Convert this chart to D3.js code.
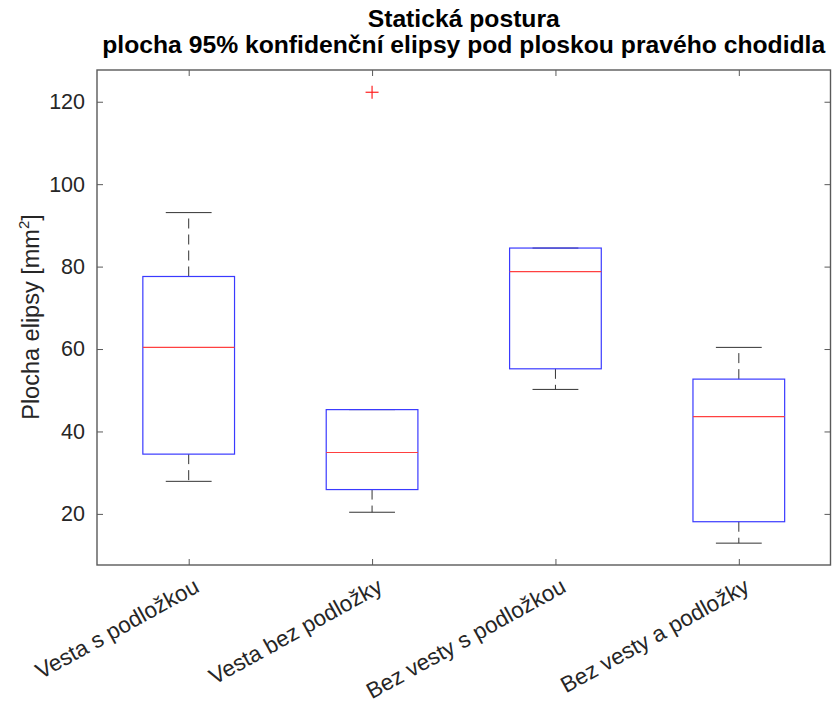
<!DOCTYPE html>
<html>
<head>
<meta charset="utf-8">
<script src="https://cdn.jsdelivr.net/npm/d3@7"></script>
<style>
  html, body { margin: 0; padding: 0; background: #fff; }
  svg { display: block; }
  text { font-family: "Liberation Sans", Arial, Helvetica, sans-serif; }
</style>
</head>
<body>
<svg id="chart" width="832" height="711"></svg>
<script>
const categories = ["Vesta s podložkou", "Vesta bez podložky", "Bez vesty s podložkou", "Bez vesty a podložky"];
const q1 = [34.5, 25.9, 55.2, 18.1];
const median = [60.4, 34.9, 78.8, 43.6];
const q3 = [77.6, 45.3, 84.5, 52.7];
const whiskerLow = [27.9, 20.4, 50.2, 12.9];
const whiskerHigh = [93.1, 45.3, 84.5, 60.4];
const outliers = [[], [122.3], [], []];
const yTicks = [20, 40, 60, 80, 100, 120];
const titleLines = ["Statická postura", "plocha 95% konfidenční elipsy pod ploskou pravého chodidla"];

const svg = d3.select("#chart");
const L = 97, R = 830.5, T = 70, B = 565;
const axisColor = "#262626";
const frameColor = "#5a5a5a";

const x = d3.scaleLinear().domain([0.5, 4.5]).range([L, R]);
const y = d3.scaleLinear().domain([7.6, 127.7]).range([B, T]);
const xIdx = categories.map((c, i) => i + 1);
const halfBox = 0.25, halfCap = 0.125;

// Boxes
const g = svg.append("g");
categories.forEach((c, i) => {
  const cx = x(i + 1);
  const bw = x(1 + halfBox) - x(1);
  const cw = x(1 + halfCap) - x(1);
  if (whiskerHigh[i] > q3[i]) {
    g.append("line").attr("x1", cx).attr("x2", cx)
      .attr("y1", y(q3[i])).attr("y2", y(whiskerHigh[i]))
      .attr("stroke", "#333").attr("stroke-width", 1).attr("stroke-dasharray", "10,6");
  }
  if (whiskerLow[i] < q1[i]) {
    g.append("line").attr("x1", cx).attr("x2", cx)
      .attr("y1", y(q1[i])).attr("y2", y(whiskerLow[i]))
      .attr("stroke", "#333").attr("stroke-width", 1).attr("stroke-dasharray", "10,6");
  }
  [whiskerHigh[i], whiskerLow[i]].forEach(v => {
    g.append("line").attr("x1", cx - cw).attr("x2", cx + cw)
      .attr("y1", y(v)).attr("y2", y(v))
      .attr("stroke", "#333").attr("stroke-width", 1);
  });
  g.append("rect").attr("x", cx - bw).attr("width", 2 * bw)
    .attr("y", y(q3[i])).attr("height", y(q1[i]) - y(q3[i]))
    .attr("fill", "none").attr("stroke", "#3a3aff").attr("stroke-width", 1.2);
  g.append("line").attr("x1", cx - bw).attr("x2", cx + bw)
    .attr("y1", y(median[i])).attr("y2", y(median[i]))
    .attr("stroke", "#ff4040").attr("stroke-width", 1.2);
  outliers[i].forEach(v => {
    const oy = y(v), s = 6.5;
    g.append("line").attr("x1", cx - s).attr("x2", cx + s).attr("y1", oy).attr("y2", oy)
      .attr("stroke", "#ff2020").attr("stroke-width", 1.2);
    g.append("line").attr("x1", cx).attr("x2", cx).attr("y1", oy - s).attr("y2", oy + s)
      .attr("stroke", "#ff2020").attr("stroke-width", 1.2);
  });
});

// Axes frame
svg.append("rect").attr("x", L).attr("y", T).attr("width", R - L).attr("height", B - T)
  .attr("fill", "none").attr("stroke", frameColor).attr("stroke-width", 1.4);

const yAxisL = d3.axisLeft(y).tickValues(yTicks).tickSize(-6).tickPadding(12);
const gyl = svg.append("g").attr("transform", `translate(${L},0)`).call(yAxisL);
gyl.select(".domain").remove();
gyl.selectAll("line").attr("stroke", frameColor);
gyl.selectAll("text").attr("font-size", 21.5).attr("fill", axisColor)
  .attr("font-family", "Liberation Sans, Arial, sans-serif");

const yAxisR = d3.axisRight(y).tickValues(yTicks).tickSize(-6).tickFormat("");
const gyr = svg.append("g").attr("transform", `translate(${R},0)`).call(yAxisR);
gyr.select(".domain").remove();
gyr.selectAll("line").attr("stroke", frameColor);

const xAxisB = d3.axisBottom(x).tickValues(xIdx).tickSize(-6).tickFormat("");
const gxb = svg.append("g").attr("transform", `translate(0,${B})`).call(xAxisB);
gxb.select(".domain").remove();
gxb.selectAll("line").attr("stroke", frameColor);

const xAxisT = d3.axisTop(x).tickValues(xIdx).tickSize(-6).tickFormat("");
const gxt = svg.append("g").attr("transform", `translate(0,${T})`).call(xAxisT);
gxt.select(".domain").remove();
gxt.selectAll("line").attr("stroke", frameColor);

// X tick labels rotated
svg.append("g").selectAll("text").data(categories).join("text")
  .attr("transform", (d, i) => `translate(${x(i + 1) + 12},${B + 26}) rotate(-29)`)
  .attr("text-anchor", "end")
  .attr("font-size", 22.5)
  .attr("fill", axisColor)
  .text(d => d);

// Y label
const yl = svg.append("text")
  .attr("transform", `translate(39,317) rotate(-90)`)
  .attr("text-anchor", "middle")
  .attr("font-size", 23.5)
  .attr("fill", axisColor);
yl.append("tspan").text("Plocha elipsy [mm");
yl.append("tspan").attr("font-size", 15).attr("dy", -10).text("2");
yl.append("tspan").attr("dy", 10).text("]");

// Title
svg.append("g").selectAll("text").data(titleLines).join("text")
  .attr("x", (L + R) / 2)
  .attr("y", (d, i) => 27 + i * 26)
  .attr("text-anchor", "middle")
  .attr("font-size", 24.7)
  .attr("font-weight", "bold")
  .attr("fill", "#000")
  .text(d => d);
</script>
</body>
</html>
